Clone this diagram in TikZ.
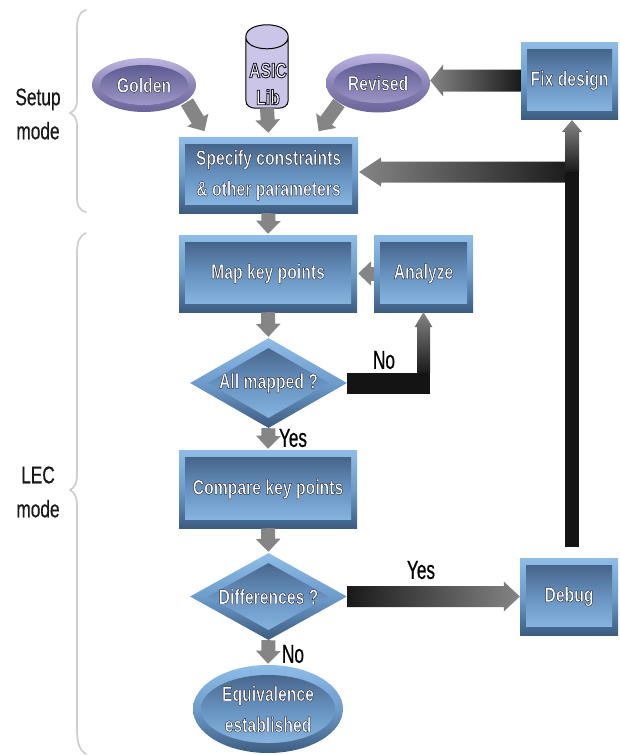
\documentclass[tikz,border=0pt]{standalone}
\usepackage{fontspec}
\usetikzlibrary{shapes.geometric,calc,arrows.meta}
\newfontfamily\lblfont[FakeStretch=0.72,FakeBold=0.6]{Liberation Sans}
\newfontfamily\ynfont[FakeStretch=0.66,FakeBold=0.6]{Liberation Sans}
\newfontfamily\boxfont[FakeStretch=0.75]{Liberation Sans}
\definecolor{bluelt}{HTML}{8FBDE8}
\definecolor{bluemid}{HTML}{6E9CCB}
\definecolor{bluedk}{HTML}{3C5C80}
\definecolor{navy}{HTML}{3F5A7E}
\definecolor{purplelt}{HTML}{BDB6E2}
\definecolor{purpledk}{HTML}{6A6498}
\definecolor{purpleinner}{HTML}{514F86}
\definecolor{purplebot}{HTML}{AAA3D2}
\definecolor{cylfill}{HTML}{CBC6E8}
\definecolor{conngray}{HTML}{858585}
\definecolor{bracegray}{HTML}{CFCFCF}
\newcommand\tl[1]{\special{pdf:code q 2 Tr 0.45 w 0.16 0.18 0.26 RG}#1\special{pdf:code Q}}
\newcommand\tld[1]{\special{pdf:code q 2 Tr 0.9 w 0.1 0.1 0.16 RG}#1\special{pdf:code Q}}
\newcommand\blockarrow[6]{%
  \coordinate (ba) at ($(#2)!#5pt!(#1)$);
  \path[#6] ($(#1)!#3pt!90:(#2)$) -- ($(ba)!#3pt!90:(#2)$) -- ($(ba)!#4pt!90:(#2)$) -- (#2)
    -- ($(ba)!#4pt!-90:(#2)$) -- ($(ba)!#3pt!-90:(#2)$) -- ($(#1)!#3pt!-90:(#2)$) -- cycle;}
\tikzset{
  boxtext/.style={text=white,font=\boxfont\bfseries\fontsize{21}{24}\selectfont,align=center,inner sep=0pt},
  bluebox/.style={rectangle,boxtext,top color=bluelt,bottom color=bluedk,middle color=bluemid,
    path picture={\shade[top color=navy,bottom color=bluelt,middle color=bluemid!85!navy]
      ($(path picture bounding box.north west)+(6,7)$) rectangle ($(path picture bounding box.south east)+(-6,-9)$);}},
  bluediamond/.style={diamond,aspect=1.75,boxtext,top color=bluelt,bottom color=bluedk,middle color=bluemid,
    path picture={\shade[top color=navy,bottom color=bluelt,middle color=bluemid!85!navy]
      ($(path picture bounding box.west)+(18,0)$) -- ($(path picture bounding box.north)+(0,10)$)
      -- ($(path picture bounding box.east)+(-18,0)$) -- ($(path picture bounding box.south)+(0,-10)$) -- cycle;}},
  blueellipse/.style={ellipse,boxtext,top color=bluelt,bottom color=bluedk,middle color=bluemid,
    path picture={\shade[top color=navy,bottom color=bluelt,middle color=bluemid!85!navy]
      (path picture bounding box.center) ellipse (67 and 34);}},
  purpleellipse/.style={ellipse,boxtext,top color=purplelt,bottom color=purpledk,middle color=purpledk!60!purplelt,
    path picture={\shade[top color=purpleinner,bottom color=purplebot]
      (path picture bounding box.center) ellipse (44 and 20);}},
  graytip/.style={draw=conngray,line width=14pt,-{Triangle[width=24pt,length=13pt]},shorten >=1pt},
  blackbar/.style={draw=black!92,line cap=butt},
  brace/.style={draw=bracegray,line width=1.8pt,line cap=round,line join=round},
  lbl/.style={font=\lblfont\fontsize{24}{34}\selectfont,text=black!90,align=center,inner sep=0pt},
  yesno/.style={font=\ynfont\fontsize{26}{28}\selectfont,text=black,inner sep=0pt}
}
\begin{document}
\begin{tikzpicture}[x=1pt,y=-1pt]
\useasboundingbox (0,0) rectangle (619,755);
% nodes
\node[purpleellipse,minimum width=104pt,minimum height=54pt] (gold) at (144,85) {\tl{Golden}};
\node[purpleellipse,minimum width=104pt,minimum height=59pt] (rev) at (378,83) {\tl{Revised}};
% ASIC library cylinder
\node[inner sep=0pt,minimum width=42pt,minimum height=83pt] (asic) at (267,66.5) {};
\draw[black,line width=1pt,fill=cylfill]
  ($(asic.north west)+(0,12)$) -- ($(asic.south west)+(0,-8)$)
  .. controls ($(asic.south west)+(0,-2)$) and ($(asic.south west)+(5,0)$) .. ($(asic.south west)+(10,0)$)
  -- ($(asic.south east)+(-10,0)$)
  .. controls ($(asic.south east)+(-5,0)$) and ($(asic.south east)+(0,-2)$) .. ($(asic.south east)+(0,-8)$)
  -- ($(asic.north east)+(0,12)$)
  .. controls ($(asic.north east)+(0,-4)$) and ($(asic.north west)+(0,-4)$) .. ($(asic.north west)+(0,12)$)
  .. controls ($(asic.north west)+(0,28)$) and ($(asic.north east)+(0,28)$) .. ($(asic.north east)+(0,12)$);
\node[boxtext,font=\boxfont\bfseries\fontsize{21}{27}\selectfont] (asiclbl) at (268,84) {\tld{ASIC}\\\tld{Lib}};
\node[bluebox,minimum width=97pt,minimum height=77pt] (fix) at (569.5,80.5) {\tl{Fix design}};
\node[bluebox,minimum width=179pt,minimum height=76pt] (spec) at (268.5,175) {\tl{Specify constraints}\\[7pt]\tl{\& other parameters}};
\node[bluebox,minimum width=178pt,minimum height=77pt] (map) at (268,273.5) {\tl{Map key points}};
\node[bluebox,minimum width=99pt,minimum height=77pt] (an) at (423.5,273.5) {\tl{Analyze}};
\node[bluediamond,minimum width=157pt,minimum height=90pt] (all) at (268.5,383) {\tl{All mapped ?}};
\node[bluebox,minimum width=178pt,minimum height=78pt] (cmp) at (268,489) {\tl{Compare key points}};
\node[bluediamond,minimum width=157pt,minimum height=87pt] (diff) at (268.5,596.5) {\tl{Differences ?}};
\node[bluebox,minimum width=98pt,minimum height=77pt] (dbg) at (569,596.5) {\tl{Debug}};
\node[blueellipse,minimum width=150pt,minimum height=88pt] (eq) at (268,709) {\tl{Equivalence}\\[7pt]\tl{established}};
% free ends
\coordinate (jstart) at (572,547);
\coordinate (jn) at (572,172);
\coordinate (fixin) at (572,120);
\coordinate (specin) at (359,172);
\coordinate (goldout) at (187,102);
\coordinate (goldin) at (205,132);
\coordinate (revout) at (339,103);
\coordinate (revin) at (318,132);
\coordinate (revtip) at (rev.east |- fix.west);
\coordinate (corner) at (all.east -| an.south);
\coordinate (cornerend) at ($(corner)+(6.5,0)$);
\coordinate (cornerup) at ($(corner)+(0,-10)$);
% grey connectors
\draw[graytip] (goldout) -- (goldin);
\draw[graytip] (revout) -- (revin);
\draw[graytip] (asic.south) -- ($(spec.north)+(0,-3)$);
\draw[graytip] (spec.south) -- (map.north);
\draw[graytip] (map.south) -- (all.north);
\draw[graytip] (all.south) -- (cmp.north);
\draw[graytip] (cmp.south) -- (diff.north);
\draw[graytip] (diff.south) -- (eq.north);
\draw[graytip] (an.west) -- (map.east);
% shaded connectors
\blockarrow{fix.west}{revtip}{11}{16}{13}{left color=conngray,right color=black!90}
\blockarrow{jn}{specin}{10.5}{14.5}{22}{left color=conngray,right color=black!90}
\blockarrow{jn}{fixin}{7}{10}{12}{top color=conngray,bottom color=black!90}
\draw[blackbar,line width=14pt] (jstart) -- (jn);
\draw[blackbar,line width=21pt] (all.east) -- (cornerend);
\blockarrow{cornerup}{an.south}{6.5}{9}{15}{top color=conngray,bottom color=black!90}
\blockarrow{diff.east}{dbg.west}{10.5}{15}{16}{left color=black!90,right color=conngray}
% braces
\draw[brace] (86,10) .. controls (79,12) and (77,18) .. (77,30) -- (77,100)
  .. controls (77,108) and (74,111) .. (70,113) .. controls (74,115) and (77,118) .. (77,126)
  -- (77,196) .. controls (77,206) and (79,210) .. (86,212);
\draw[brace] (86,233) .. controls (79,236) and (77,242) .. (77,254) -- (77,474)
  .. controls (77,484) and (74,488) .. (70,490) .. controls (74,492) and (77,496) .. (77,506)
  -- (77,728) .. controls (77,742) and (79,750) .. (86,754);
% labels
\node[lbl] (setup) at (38,114) {Setup\\mode};
\node[lbl] (lec) at (38,492) {LEC\\mode};
\node[yesno] (no1) at (384,360) {No};
\node[yesno] (yes1) at (293,438) {Yes};
\node[yesno] (yes2) at (421,570) {Yes};
\node[yesno] (no2) at (293,654) {No};
\end{tikzpicture}
\end{document}
